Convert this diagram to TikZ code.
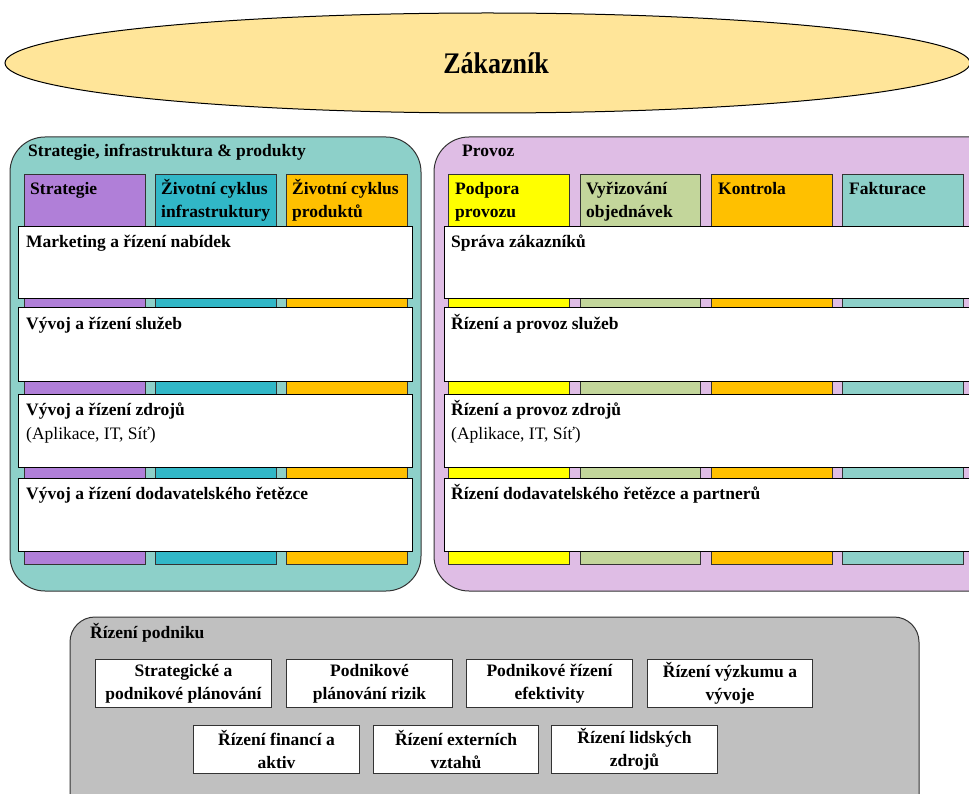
\documentclass[tikz,border=0pt]{standalone}
\usepackage{fontspec}
\setmainfont{Liberation Serif}
\usetikzlibrary{shapes.geometric}
\definecolor{custfill}{HTML}{FFE599}
\definecolor{leftpanel}{HTML}{8DD0C9}
\definecolor{colpurple}{HTML}{B07FD8}
\definecolor{colteal}{HTML}{31B7C7}
\definecolor{colorange}{HTML}{FFC000}
\definecolor{rightpanel}{HTML}{DFBDE5}
\definecolor{colyellow}{HTML}{FFFF00}
\definecolor{colgreen}{HTML}{C3D69B}
\definecolor{colmint}{HTML}{8DD0C9}
\definecolor{bottompanel}{HTML}{C0C0C0}
\definecolor{edge}{HTML}{333333}
\newcommand\bx[6]{\node[#6, anchor=north west, inner sep=0pt, outer sep=0pt,
  minimum width={#4pt-#2pt}, minimum height={#5pt-#3pt}] (#1) at (#2,#3) {};}
\tikzset{
  panelbox/.style={draw=edge, line width=1pt, rounded corners=35pt},
  colbox/.style={draw=edge, line width=0.9pt},
  rowbox/.style={draw=black, line width=1pt, fill=white},
  lbl/.style={inner sep=0pt, anchor=base west, font=\fontsize{17.5}{23}\selectfont\bfseries},
  sublbl/.style={inner sep=0pt, anchor=base west, font=\fontsize{17.5}{23}\selectfont},
  ebox/.style={draw=edge, line width=1pt, fill=white, anchor=north west, inner sep=0pt,
    align=center, font=\fontsize{17.5}{23}\selectfont\bfseries}
}
\begin{document}
\begin{tikzpicture}[x=1pt,y={(0pt,-1pt)}]
\useasboundingbox (0,0) rectangle (969,794);
\begin{scope}
\clip (0,0) rectangle (969,794);
% customer
\node[ellipse, draw=black, line width=1pt, fill=custfill, inner sep=0pt,
  minimum width=965pt, minimum height=100pt] (cust) at (487.5,63) {};
\node[inner sep=0pt, font=\fontsize{26}{30}\selectfont\bfseries] (custtxt) at (496,63) {\scalebox{1}[1.15]{Zákazník}};

% left panel
\bx{sip}{10}{137}{421}{591}{panelbox, fill=leftpanel}
\node[lbl] (siptitle) at (28,157) {Strategie, infrastruktura \& produkty};
\bx{cstrat}{24}{174}{145}{564}{colbox, fill=colpurple}
\bx{cinfra}{155}{174}{276}{564}{colbox, fill=colteal}
\bx{cprod}{286}{174}{407}{564}{colbox, fill=colorange}
\node[lbl] (tstrat) at (30,195) {Strategie};
\node[lbl] (tinfraA) at (161,195) {Životní cyklus};
\node[lbl] (tinfraB) at (161,218) {infrastruktury};
\node[lbl] (tprodA) at (292,195) {Životní cyklus};
\node[lbl] (tprodB) at (292,218) {produktů};
\bx{lrow1}{18}{227}{412}{299}{rowbox}
\bx{lrow2}{18}{308}{412}{381}{rowbox}
\bx{lrow3}{18}{394}{412}{467}{rowbox}
\bx{lrow4}{18}{478}{412}{551}{rowbox}
\node[lbl] (tl1) at (26,248) {Marketing a řízení nabídek};
\node[lbl] (tl2) at (26,329) {Vývoj a řízení služeb};
\node[lbl] (tl3) at (26,415) {Vývoj a řízení zdrojů};
\node[sublbl] (tl3b) at (26,439) {(Aplikace, IT, Síť)};
\node[lbl] (tl4) at (26,499) {Vývoj a řízení dodavatelského řetězce};

% right panel
\bx{prov}{434}{137}{1004}{591}{panelbox, fill=rightpanel}
\node[lbl] (provtitle) at (462,157) {Provoz};
\bx{cpod}{448}{174}{569}{564}{colbox, fill=colyellow}
\bx{cvyr}{580}{174}{700}{564}{colbox, fill=colgreen}
\bx{ckon}{711}{174}{832}{564}{colbox, fill=colorange}
\bx{cfak}{842}{174}{963}{564}{colbox, fill=colmint}
\node[lbl] (tpodA) at (455,195) {Podpora};
\node[lbl] (tpodB) at (455,218) {provozu};
\node[lbl] (tvyrA) at (586,195) {Vyřizování};
\node[lbl] (tvyrB) at (586,218) {objednávek};
\node[lbl] (tkon) at (718,195) {Kontrola};
\node[lbl] (tfak) at (849,195) {Fakturace};
\bx{rrow1}{444}{227}{1000}{299}{rowbox}
\bx{rrow2}{444}{308}{1000}{381}{rowbox}
\bx{rrow3}{444}{394}{1000}{467}{rowbox}
\bx{rrow4}{444}{478}{1000}{551}{rowbox}
\node[lbl] (tr1) at (451,248) {Správa zákazníků};
\node[lbl] (tr2) at (451,329) {Řízení a provoz služeb};
\node[lbl] (tr3) at (451,415) {Řízení a provoz zdrojů};
\node[sublbl] (tr3b) at (451,439) {(Aplikace, IT, Síť)};
\node[lbl] (tr4) at (451,499) {Řízení dodavatelského řetězce a partnerů};

% enterprise management
\bx{ent}{70}{617}{919}{830}{draw=edge, line width=1pt, rounded corners=25pt, fill=bottompanel}
\node[lbl] (enttitle) at (90,638) {Řízení podniku};
\node[ebox, minimum width=176pt, minimum height=48pt] (e1) at (95,659) {Strategické a\\podnikové plánování};
\node[ebox, minimum width=166pt, minimum height=48pt] (e2) at (286,659) {Podnikové\\plánování rizik};
\node[ebox, minimum width=166pt, minimum height=48pt] (e3) at (466,659) {Podnikové řízení\\efektivity};
\node[ebox, minimum width=165pt, minimum height=48pt] (e4) at (647,659) {Řízení výzkumu a\\vývoje};
\node[ebox, minimum width=166pt, minimum height=48pt] (e5) at (193,725) {Řízení financí a\\aktiv};
\node[ebox, minimum width=165pt, minimum height=48pt] (e6) at (373,725) {Řízení externích\\vztahů};
\node[ebox, minimum width=166pt, minimum height=48pt] (e7) at (551,725) {Řízení lidských\\zdrojů};
\end{scope}
\end{tikzpicture}
\end{document}
